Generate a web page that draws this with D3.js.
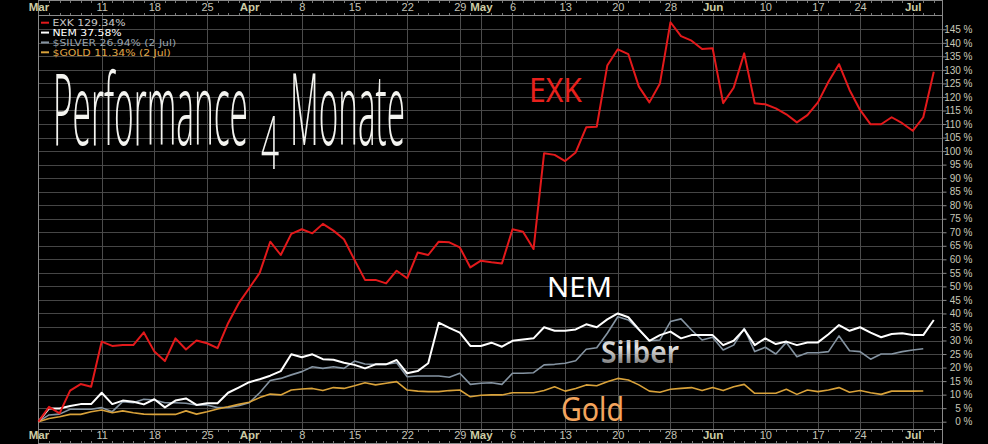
<!DOCTYPE html>
<html><head><meta charset="utf-8">
<script src="https://cdn.jsdelivr.net/npm/d3@7"></script>
<style>html,body{margin:0;padding:0;background:#000;overflow:hidden}</style>
</head><body>
<svg id="c" width="988" height="444"></svg>
<script>
// ---- data (percent performance since 1 Mar 2024, trading days) ----
const exk = [0,5.5,3.1,11.5,13.9,12.9,29.6,28,28.3,28.3,33,25.9,22.4,30.8,26.7,30,29,27.2,36.4,43.7,
  49.3,55,66.5,61.6,69.4,71.1,69.6,73.1,70.6,67.4,59.8,52.4,52.4,51.1,55.8,53,62.5,61.6,66.5,66.3,64.4,57,
  59.5,58.9,58.5,71.1,70.2,63.8,99.2,98.6,96.3,99.5,108.8,109,131.6,137.6,135.8,123.8,118,125,147.6,142.5,140.8,137.7,
  138,117.7,123.4,136.1,117.7,117.3,115.8,113.6,110.6,113.3,118,125.6,132.1,122.6,115.2,109.9,109.9,112.5,110.3,
  107.5,112.5,129.34];
const nem = [0,4.9,4.9,5.8,6.5,6.5,10.7,6.5,7.8,7.4,6.4,8.3,5.3,7.8,8.6,6.2,6.8,6.8,10.7,12.6,
  14.6,15.7,17,18.7,24.9,23.8,24.9,23.1,22.9,21.8,21,19.7,21.2,21.2,22.8,17.9,18.7,21.6,36.6,34.7,32.9,28,
  28,29.2,27.7,29.9,30.4,30.8,34.9,33.6,33.6,34.1,36,34.9,37.8,40,38.6,34.1,29.9,32,33.3,30.8,32,32,
  32,28.3,29.9,34.1,28.3,30.8,28.7,29.6,28.3,29.3,29.3,32.3,35.7,33.6,34.9,32.9,31.2,32.4,32.7,
  32,32,37.58];
const silver = [0,2.5,2.8,4.6,4.6,4.6,5.2,3.7,7.4,7,8.3,8,7,7,6.8,6.2,6.2,5.2,5.3,5.9,
  7,10.7,15.2,16,17.3,18.5,20.3,19.7,20.3,19.7,22.4,21.3,21.2,21.2,21.8,16.6,16.9,16.9,16.9,16.4,17.9,13.8,
  14.2,14.4,13.8,17.9,17.9,18.1,21,21.2,21.6,22.5,26.8,27.3,32.7,38.8,37.6,33.9,29.9,30.2,37,38,33.9,30.2,
  31.2,26.5,28.3,34.5,25.9,27.5,25,29.3,24,25.5,25.5,25.9,31.7,26.2,25.9,23.1,25,25,25.9,
  26.5,26.94];
const gold = [0,1.2,1.8,2.7,2.7,3.7,4.3,3.3,4,3.3,2.8,2.7,2.7,2.7,4,2.8,3.7,4.7,5.5,6.4,
  7.2,8.9,10.2,9.9,11.7,12.1,12.3,11.5,12.6,12.3,13.3,14.4,13.6,14.2,14.8,11.7,11.3,11.1,11.1,11.5,11.7,9.2,
  9.8,9.9,9.9,10.7,10.7,10.7,11.5,12.9,11.3,12.3,13.6,13.3,14.8,16,15.4,13.6,11.3,10.9,12,12.3,12.6,11.5,
  12.6,11.5,12.9,13.8,10.5,10.5,10.5,12,10.1,11.7,11.1,11.7,12.6,10.9,11.5,10.7,10.1,11.3,11.3,
  11.3,11.34];
const holidays = ["2024-03-29","2024-05-27","2024-06-19"];
const tickDates = ["2024-03-01","2024-03-11","2024-03-18","2024-03-25","2024-04-01","2024-04-08","2024-04-15",
  "2024-04-22","2024-04-29","2024-05-01","2024-05-06","2024-05-13","2024-05-20","2024-05-28","2024-06-03",
  "2024-06-10","2024-06-17","2024-06-24","2024-07-01"];
const tickLabels = ["Mar","11","18","25","Apr","8","15","22","29","May","6","13","20","28","Jun","10","17","24","Jul"];
const monthLabels = ["Mar","Apr","May","Jun","Jul"];
const yTicks = d3.range(0, 146, 5);
const legendLabels = ["EXK 129.34%","NEM 37.58%","$SILVER 26.94% (2 Jul)","$GOLD 11.34% (2 Jul)"];
const seriesNames = ["EXK","NEM","Silber","Gold"];

// ---- trading days ----
const fmt = d3.utcFormat("%Y-%m-%d");
const dates = d3.utcDays(new Date(Date.UTC(2024,2,1)), new Date(Date.UTC(2024,6,4)))
  .filter(d => d.getUTCDay() % 6 !== 0 && !holidays.includes(fmt(d))).map(fmt);

const svg = d3.select("#c");
svg.append("rect").attr("width",988).attr("height",444).attr("fill","#000");

const L = 38.5, R = 942.5, T = 15.5, B = 429.5;
const x = d3.scalePoint().domain(dates).range([38.5, 933.8]);
const y = d3.scaleLinear().domain([0,145]).range([421.7, 29.3]);

const defs = svg.append("defs");
const g1 = defs.append("linearGradient").attr("id","silv").attr("x1",0).attr("y1",0).attr("x2",0).attr("y2",1);
g1.append("stop").attr("offset","0%").attr("stop-color","#8a8a8a");
g1.append("stop").attr("offset","40%").attr("stop-color","#e6e6e6");
g1.append("stop").attr("offset","100%").attr("stop-color","#4a4a4a");

// grid
const grid = svg.append("g");
grid.selectAll("line.h").data(yTicks).join("line")
  .attr("x1",L).attr("x2",R).attr("y1",d=>Math.round(y(d))+0.5).attr("y2",d=>Math.round(y(d))+0.5)
  .attr("stroke","#464646").attr("stroke-width",1);
grid.selectAll("line.v").data(tickDates).join("line")
  .attr("x1",d=>Math.round(x(d))+0.5).attr("x2",d=>Math.round(x(d))+0.5).attr("y1",T).attr("y2",B)
  .attr("stroke","#4c4c4c").attr("stroke-width",1);

// frame & bands
const fr = svg.append("g").attr("stroke","#8a8a8a").attr("stroke-width",1).attr("fill","none");
fr.append("line").attr("x1",L).attr("x2",R).attr("y1",0.5).attr("y2",0.5);
fr.append("line").attr("x1",L).attr("x2",R).attr("y1",T).attr("y2",T);
fr.append("line").attr("x1",L).attr("x2",R).attr("y1",B).attr("y2",B);
fr.append("line").attr("x1",L).attr("x2",R).attr("y1",443.5).attr("y2",443.5);
fr.append("line").attr("x1",L).attr("x2",L).attr("y1",0).attr("y2",444);
fr.append("line").attr("x1",R).attr("x2",R).attr("y1",0).attr("y2",444);
// minor day ticks
const mt = svg.append("g").attr("stroke","#777").attr("stroke-width",1);
[[1,3],[13,15],[430,432],[441,443]].forEach(([a,b]) => {
  mt.selectAll(null).data(dates).join("line")
    .attr("x1",d=>Math.round(x(d))+0.5).attr("x2",d=>Math.round(x(d))+0.5).attr("y1",a).attr("y2",b);
});

// x axes (top & bottom)
const isMonth = d => monthLabels.includes(tickLabels[tickDates.indexOf(d)]);
function styleX(g){
  g.select(".domain").remove();
  g.selectAll(".tick line").remove();
  g.selectAll(".tick text")
    .attr("font-family","Liberation Sans, Arial, sans-serif")
    .attr("font-size", d => isMonth(d) ? 11.5 : 11)
    .attr("font-weight", d => isMonth(d) ? "bold" : "normal")
    .attr("fill", d => isMonth(d) ? "#cdcca4" : "#c4c4b8");
}
const xAx = d3.axisBottom(x).tickValues(tickDates).tickFormat(d => tickLabels[tickDates.indexOf(d)]).tickSize(0).tickPadding(0);
svg.append("g").attr("transform","translate(0,3)").call(xAx).call(styleX);
svg.append("g").attr("transform","translate(0,431)").call(xAx).call(styleX);

// y axis right
const yAx = d3.axisRight(y).tickValues(yTicks).tickFormat(d => d + " %").tickSize(4).tickPadding(26);
const ya = svg.append("g").attr("transform",`translate(${R},0)`).call(yAx);
ya.select(".domain").remove();
ya.selectAll(".tick line").attr("stroke","#8a8a8a");
ya.selectAll(".tick text").attr("text-anchor","end").attr("fill","#c8c8b8")
  .attr("font-family","Liberation Sans, Arial, sans-serif").attr("font-size",10);

// lines
const line = d3.line().x((d,i)=>x(dates[i])).y(d=>y(d)).curve(d3.curveLinear);
const series = [
  {v: silver, c:"#8594a2", w:1.6},
  {v: gold, c:"#d9a23a", w:1.6},
  {v: nem, c:"#ffffff", w:2},
  {v: exk, c:"#e3191b", w:2}
];
svg.append("g").selectAll("path").data(series).join("path")
  .attr("d", d => line(d.v)).attr("fill","none").attr("stroke",d=>d.c).attr("stroke-width",d=>d.w)
  .attr("stroke-linejoin","round");

// horizontally scaled text helper (keeps true bounding box)
function sText(txt, xx, yy, fs, len, fill, family, weight, k){
  const t = svg.append("text").attr("x",0).attr("y",0).text(txt).attr("fill",fill)
    .attr("font-family",family).attr("font-weight",weight).attr("font-size",fs);
  const w = t.node().getComputedTextLength();
  const s = k || len / w;
  t.attr("transform",`translate(${xx},${yy}) scale(${s},1)`);
  return {t, s};
}

// legend
const legColors = ["#e3191b","#ffffff","#8594a2","#d9a23a"];
const legText = ["#c8c8c8","#ffffff","#9aa4ae","#e0a848"];
let legK = null;
legendLabels.forEach((t,i) => {
  const yy = 22.7 + i*9.87;
  svg.append("line").attr("x1",41).attr("x2",49).attr("y1",yy).attr("y2",yy).attr("stroke",legColors[i]).attr("stroke-width",2);
  const r = sText(t, 52.5, yy+3.3, 8.4, 73, legText[i], "DejaVu Sans, sans-serif", 400, legK);
  if (legK === null) legK = r.s;
});

// title (handwritten look)
const tf = "'Open Sans', 'Noto Sans', sans-serif";
sText("Performance", 53, 145, 100, 195, "#f4f4f0", tf, 300);
sText("4", 261, 169, 74, 18, "#f4f4f0", tf, 300);
sText("Monate", 290, 145, 100, 115, "#f4f4f0", tf, 300);

// series annotations
const af = "'Noto Sans', sans-serif";
sText(seriesNames[0], 529, 102, 33, 53, "#e8201c", af, 400);
sText(seriesNames[1], 547, 297, 28, 65, "#ffffff", af, 400);
sText(seriesNames[2], 601, 363, 31, 78, "url(#silv)", af, 600);
sText(seriesNames[3], 561, 420.5, 33, 63, "#f5a55c", af, 400);
</script>
</body></html>
